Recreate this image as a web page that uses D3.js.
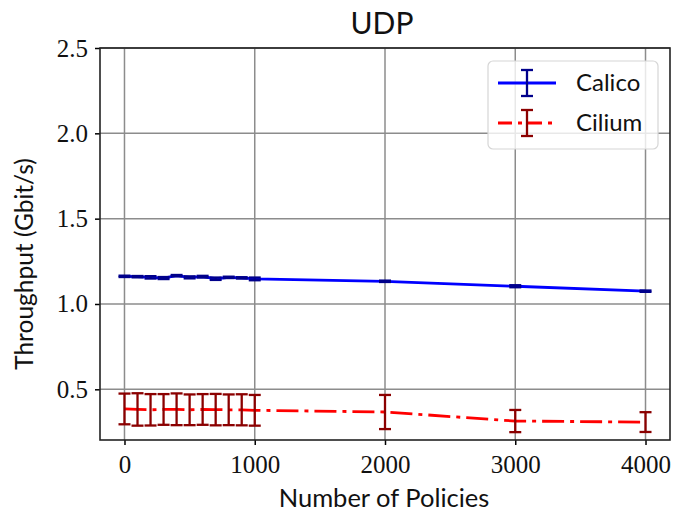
<!DOCTYPE html>
<html>
<head>
<meta charset="utf-8">
<script src="https://cdn.jsdelivr.net/npm/d3@7"></script>
<style>
  body { margin: 0; background: #fff; }
  .tick text { font-family: "Liberation Serif", "DejaVu Serif", serif; }
</style>
</head>
<body>
<div id="chart"></div>
<script>
// data
var policies = [0, 100, 200, 300, 400, 500, 600, 700, 800, 900, 1000, 2000, 3000, 4000];
var calicoMean = [1.162, 1.160, 1.156, 1.152, 1.166, 1.156, 1.160, 1.148, 1.156, 1.153, 1.147, 1.133, 1.104, 1.075];
var calicoErr = [0.004, 0.004, 0.007, 0.006, 0.004, 0.006, 0.005, 0.007, 0.004, 0.004, 0.008, 0.004, 0.006, 0.004];
var ciliumMean = [0.385, 0.382, 0.380, 0.382, 0.383, 0.380, 0.382, 0.381, 0.380, 0.380, 0.377, 0.367, 0.314, 0.308];
var ciliumErr = [0.090, 0.095, 0.092, 0.090, 0.093, 0.090, 0.090, 0.092, 0.090, 0.091, 0.090, 0.100, 0.065, 0.058];
var xTicks = [0, 1000, 2000, 3000, 4000];
var yTicks = [0.5, 1.0, 1.5, 2.0, 2.5];

var series = [
  { name: "Calico", mean: calicoMean, err: calicoErr, color: "#0000ff", errColor: "#00008b", dash: null },
  { name: "Cilium", mean: ciliumMean, err: ciliumErr, color: "#ff0000", errColor: "#8b0000", dash: "22,6,4,6" }
];

var width = 674, height = 512;
var margin = { top: 48, right: 4, bottom: 72, left: 100 };
var w = width - margin.left - margin.right,
    h = height - margin.top - margin.bottom;

var svg = d3.select("#chart").append("svg")
    .attr("width", width)
    .attr("height", height);

var g = svg.append("g")
    .attr("transform", "translate(" + margin.left + "," + margin.top + ")");

var x = d3.scaleLinear().domain([-188, 4188]).range([0, w]);
var y = d3.scaleLinear().domain([0.203, 2.5]).range([h, 0]);

// grid
g.append("g").selectAll("line").data(xTicks).enter().append("line")
    .attr("x1", function(d) { return x(d); }).attr("x2", function(d) { return x(d); })
    .attr("y1", 0).attr("y2", h)
    .attr("stroke", "#8c8c8c").attr("stroke-width", 1.5);
g.append("g").selectAll("line").data(yTicks).enter().append("line")
    .attr("y1", function(d) { return y(d); }).attr("y2", function(d) { return y(d); })
    .attr("x1", 0).attr("x2", w)
    .attr("stroke", "#8c8c8c").attr("stroke-width", 1.5);

// lines + error bars
var cap = 6;
series.forEach(function(s) {
  var pts = policies.map(function(p, i) { return { x: p, m: s.mean[i], e: s.err[i] }; });
  var line = d3.line().x(function(d) { return x(d.x); }).y(function(d) { return y(d.m); });
  g.append("path").datum(pts)
      .attr("d", line)
      .attr("fill", "none")
      .attr("stroke", s.color)
      .attr("stroke-width", 2.8)
      .attr("stroke-dasharray", s.dash);
  var eb = g.append("g").attr("stroke", s.errColor).attr("stroke-width", 2.3);
  eb.selectAll(".v").data(pts).enter().append("line")
      .attr("x1", function(d) { return x(d.x); }).attr("x2", function(d) { return x(d.x); })
      .attr("y1", function(d) { return y(d.m - d.e); }).attr("y2", function(d) { return y(d.m + d.e); });
  eb.selectAll(".t").data(pts).enter().append("line")
      .attr("x1", function(d) { return x(d.x) - cap; }).attr("x2", function(d) { return x(d.x) + cap; })
      .attr("y1", function(d) { return y(d.m + d.e); }).attr("y2", function(d) { return y(d.m + d.e); });
  eb.selectAll(".b").data(pts).enter().append("line")
      .attr("x1", function(d) { return x(d.x) - cap; }).attr("x2", function(d) { return x(d.x) + cap; })
      .attr("y1", function(d) { return y(d.m - d.e); }).attr("y2", function(d) { return y(d.m - d.e); });
});

// axes
var xAxis = d3.axisBottom(x).tickValues(xTicks).tickFormat(d3.format("d")).tickSizeInner(5).tickSizeOuter(0).tickPadding(10);
var yAxis = d3.axisLeft(y).tickValues(yTicks).tickFormat(d3.format(".1f")).tickSizeInner(5).tickSizeOuter(0).tickPadding(7);

var gx = g.append("g").attr("transform", "translate(0," + h + ")").call(xAxis);
var gy = g.append("g").call(yAxis);
[gx, gy].forEach(function(a) {
  a.select(".domain").remove();
  a.selectAll(".tick line").attr("stroke", "#000").attr("stroke-width", 1.5);
  a.selectAll(".tick text").attr("fill", "#111").style("font-size", "25px");
});

// frame
g.append("rect").attr("width", w).attr("height", h)
    .attr("fill", "none").attr("stroke", "#222").attr("stroke-width", 1.6);

// labels
var sans = "Lato, 'DejaVu Sans', sans-serif";
svg.append("text").attr("x", margin.left + w / 2 - 3).attr("y", 34)
    .attr("text-anchor", "middle").style("font-family", sans).style("font-size", "30px").attr("fill", "#111")
    .text("UDP");
svg.append("text").attr("x", margin.left + w / 2 - 1).attr("y", 507)
    .attr("text-anchor", "middle").style("font-family", sans).style("font-size", "25.5px").attr("fill", "#111")
    .text("Number of Policies");
svg.append("text").attr("transform", "translate(33," + (margin.top + h / 2 + 20) + ") rotate(-90)")
    .attr("text-anchor", "middle").style("font-family", sans).style("font-size", "24.5px").attr("fill", "#111")
    .text("Throughput (Gbit/s)");

// legend
var lg = svg.append("g").attr("transform", "translate(488,61)");
lg.append("rect").attr("width", 170).attr("height", 88).attr("rx", 5)
    .attr("fill", "#fff").attr("fill-opacity", 0.8).attr("stroke", "#d6d6d6").attr("stroke-width", 1.2);
series.forEach(function(s, i) {
  var cy = 22 + i * 40;
  lg.append("line").attr("x1", 10).attr("x2", 68).attr("y1", cy).attr("y2", cy)
      .attr("stroke", s.color).attr("stroke-width", 2.8).attr("stroke-dasharray", s.dash ? "14,6,4,6" : null);
  var e = lg.append("g").attr("stroke", s.errColor).attr("stroke-width", 2.3);
  e.append("line").attr("x1", 39).attr("x2", 39).attr("y1", cy - 13).attr("y2", cy + 13);
  e.append("line").attr("x1", 33).attr("x2", 45).attr("y1", cy - 13).attr("y2", cy - 13);
  e.append("line").attr("x1", 33).attr("x2", 45).attr("y1", cy + 13).attr("y2", cy + 13);
  lg.append("text").attr("x", 88).attr("y", cy + 8)
      .style("font-family", sans).style("font-size", "24px").attr("fill", "#111")
      .text(s.name);
});
</script>
</body>
</html>
